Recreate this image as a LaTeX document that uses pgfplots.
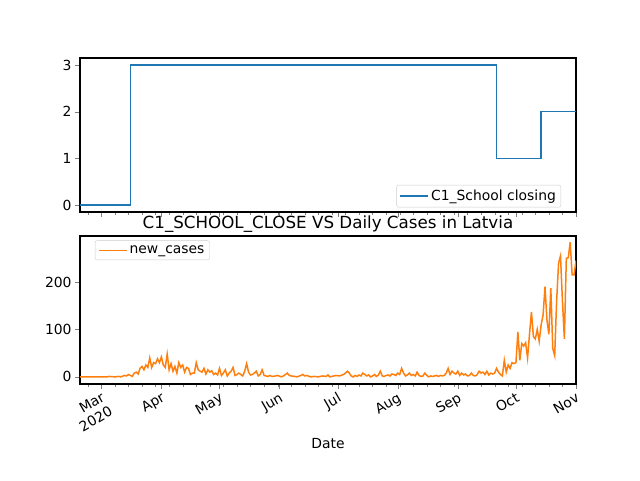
\documentclass[border=0pt]{standalone}
\usepackage{pgfplots}
\pgfplotsset{compat=1.18}
\usepackage{fontspec}
\setmainfont{DejaVu Sans}
\definecolor{mblue}{HTML}{1F77B4}
\definecolor{morange}{HTML}{FF7F0E}
\newcommand{\mf}{\fontsize{13.9}{16}\selectfont}
\begin{document}
\begin{tikzpicture}
\useasboundingbox (-80pt,-96pt) rectangle (560pt,384pt);
\pgfplotsset{every axis/.style={width=496pt,height=154pt,scale only axis,xmin=-11,xmax=245,
 xtick={0,31,61,92,122,153,184,214,245},
 minor xtick={-7,7,14,21,28,35,42,49,56,63,70,77,84,91,98,105,112,119,126,133,140,147,154,161,168,175,182,189,196,203,210,217,224,231,238},
 tick align=outside, tick pos=left, font=\mf, legend cell align=left,
 major tick length=4.9pt, minor tick length=2.8pt, axis line style={line width=1.1pt},
 /pgf/number format/assume math mode=true,
 legend image code/.code={\draw[#1] (0pt,0pt) -- (28pt,0pt);},
 legend style={font=\mf,draw=black!20,rounded corners=2pt,inner sep=3pt}}}
\begin{axis}[at={(0,172pt)},xticklabels={},ymin=-0.15,ymax=3.15,ytick={0,1,2,3},legend pos=south east]
\addplot[mblue,line width=1.5pt,const plot] coordinates {(-11,0)(15,0)(15,3)(204,3)(204,1)(227,1)(227,2)(245,2)};
\addlegendentry{C1\_School closing}
\end{axis}
\begin{axis}[at={(0,0)},height=148pt,ymin=-15,ymax=297,ytick={0,100,200},legend pos=north west,
 title={C1\_SCHOOL\_CLOSE VS Daily Cases in Latvia},title style={font=\fontsize{16.7}{19}\selectfont,yshift=-6pt},
 xlabel={Date},
 xticklabels={{Mar\\2020},Apr,May,Jun,Jul,Aug,Sep,Oct,Nov},
 xticklabel style={rotate=30,anchor=north east,align=right,inner sep=2pt}]
\addplot[morange,line width=1.5pt] coordinates {
(-11,0)(-8,0)(-4,0)(0,0)(3,0)(4,1)(7,0)(9,1)(10,0)(12,3)(13,2)(14,5)(15,3)(16,1)(17,8)(18,10)(19,6)(20,18)(21,22)(22,15)(23,25)(24,20)(25,40)(26,20)(27,30)(28,28)(29,38)(30,30)(31,42)(32,25)(33,20)(34,48)(35,15)(36,28)(37,12)(38,22)(39,8)(40,30)(41,20)(42,25)(43,10)(44,20)(45,18)(46,5)(47,8)(48,8)(49,30)(50,15)(51,12)(52,10)(53,18)(54,6)(55,15)(56,10)(57,13)(58,5)(59,8)(60,4)(61,18)(62,3)(63,8)(64,15)(65,2)(66,8)(67,12)(68,20)(69,3)(70,5)(71,8)(72,5)(73,2)(74,12)(75,28)(76,10)(77,4)(78,5)(79,8)(80,12)(81,2)(82,5)(83,15)(84,3)(85,2)(86,1)(87,3)(88,1)(90,2)(91,3)(93,0)(94,2)(96,8)(97,3)(98,2)(100,1)(101,0)(103,3)(104,5)(105,2)(106,3)(108,0)(110,1)(112,0)(114,2)(116,1)(117,4)(118,0)(120,2)(121,3)(123,2)(125,5)(126,8)(127,12)(128,8)(129,2)(130,0)(131,3)(132,1)(133,4)(134,2)(135,8)(136,5)(137,2)(138,4)(139,0)(140,2)(141,5)(142,1)(143,4)(144,12)(145,2)(146,1)(147,3)(148,4)(149,2)(150,6)(151,5)(152,3)(153,8)(154,5)(155,18)(156,8)(157,2)(158,4)(159,8)(160,3)(161,5)(162,2)(163,10)(164,3)(165,1)(166,2)(167,8)(168,3)(169,0)(170,2)(171,1)(172,2)(173,3)(174,1)(175,3)(176,2)(177,3)(178,8)(179,18)(180,5)(181,12)(182,8)(183,6)(184,12)(185,3)(186,8)(187,4)(188,6)(189,2)(190,3)(191,8)(192,3)(193,2)(194,5)(195,12)(196,8)(197,10)(198,5)(199,12)(200,4)(201,8)(202,6)(203,8)(204,18)(205,10)(206,5)(207,2)(208,35)(209,10)(210,25)(211,18)(212,30)(213,28)(214,30)(215,95)(216,35)(217,70)(218,65)(219,72)(220,40)(221,90)(222,137)(223,85)(224,80)(225,100)(226,75)(227,110)(228,130)(229,190)(230,120)(231,90)(232,187)(233,60)(234,45)(235,160)(236,240)(237,255)(238,160)(239,80)(240,250)(241,251)(242,284)(243,215)(244,215)(245,245)};
\addlegendentry{new\_cases}
\end{axis}
\end{tikzpicture}
\end{document}
